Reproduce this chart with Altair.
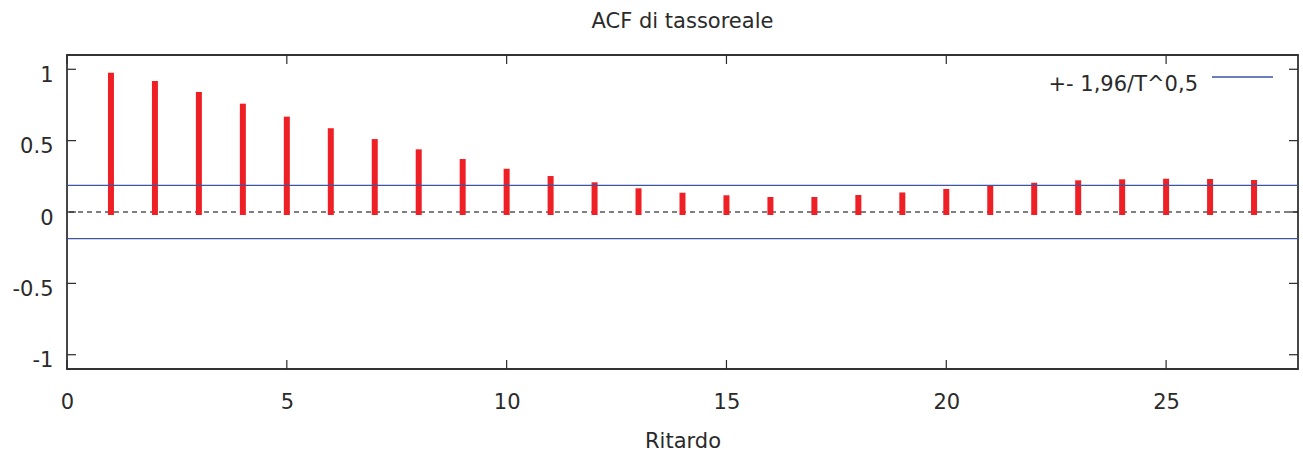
import altair as alt
import pandas as pd

lags = list(range(1, 28))
acf = [0.955, 0.897, 0.820, 0.738, 0.647, 0.566, 0.490, 0.418, 0.350, 0.282,
       0.231, 0.187, 0.145, 0.114, 0.096, 0.084, 0.084, 0.098, 0.116, 0.140,
       0.168, 0.184, 0.201, 0.208, 0.212, 0.210, 0.203]
band = 0.186
y_ticks = [-1, -0.5, 0, 0.5, 1]
x_ticks = [0, 5, 10, 15, 20, 25]
legend_label = ["+- 1,96/T^0,5"]

W, H = 1231, 314
FONT = "DejaVu Sans"
RED = "#ee1f25"
BLUE = "#3c55a5"
INK = "#2a2a2a"

df = pd.DataFrame({"lag": lags, "acf": acf})
bands = pd.DataFrame({"b": [band, -band]})
yt = pd.DataFrame({"v": y_ticks})
xt = pd.DataFrame({"v": x_ticks})
leg = pd.DataFrame({"t": legend_label})

xs = alt.Scale(domain=[0, 28], nice=False, zero=False)
ys = alt.Scale(domain=[-1.1, 1.1], nice=False, zero=False)

base = alt.Chart(df).encode(
    x=alt.X("lag:Q", scale=xs,
            axis=alt.Axis(values=x_ticks, title="Ritardo", grid=False, domain=False,
                          ticks=False, labelFont=FONT, labelFontSize=21, labelColor=INK,
                          labelPadding=22, labelFlush=False, titleFont=FONT, titleFontSize=21,
                          titleFontWeight="normal", titleColor=INK, titlePadding=18,
                          labelExpr="'' + datum.value")),
    y=alt.Y("acf:Q", scale=ys,
            axis=alt.Axis(values=y_ticks, title=None, grid=False, domain=False,
                          ticks=False, labelFont=FONT, labelFontSize=21, labelColor=INK,
                          labelPadding=14, labelOffset=6, labelFlush=False,
                          labelExpr="'' + datum.value")),
)

zero_line = alt.Chart(pd.DataFrame({"z": [0]})).mark_rule(
    color="black", strokeWidth=1, strokeDash=[5, 4]
).encode(y=alt.Y("z:Q", scale=ys))

bars = base.mark_rule(color=RED, strokeWidth=6, strokeCap="square").encode(
    y2=alt.Y2(datum=0)
)

band_lines = alt.Chart(bands).mark_rule(color=BLUE, strokeWidth=1.3).encode(
    y=alt.Y("b:Q", scale=ys)
)

ytick_l = alt.Chart(yt).mark_rule(color=INK, strokeWidth=1.2).encode(
    y=alt.Y("v:Q", scale=ys), x=alt.value(0), x2=alt.value(9))
ytick_r = alt.Chart(yt).mark_rule(color=INK, strokeWidth=1.2).encode(
    y=alt.Y("v:Q", scale=ys), x=alt.value(W - 9), x2=alt.value(W))
xtick_b = alt.Chart(xt).mark_rule(color=INK, strokeWidth=1.2).encode(
    x=alt.X("v:Q", scale=xs), y=alt.value(H - 9), y2=alt.value(H))
xtick_t = alt.Chart(xt).mark_rule(color=INK, strokeWidth=1.2).encode(
    x=alt.X("v:Q", scale=xs), y=alt.value(0), y2=alt.value(9))

leg_text = alt.Chart(leg).mark_text(
    align="right", baseline="alphabetic", font=FONT, fontSize=21, color=INK
).encode(text="t:N", x=alt.value(1131), y=alt.value(36))
leg_line = alt.Chart(leg).mark_rule(color=BLUE, strokeWidth=1.3).encode(
    x=alt.value(1145), x2=alt.value(1206), y=alt.value(22))

chart = alt.layer(
    base.mark_point(opacity=0),
    zero_line, bars, band_lines, ytick_l, ytick_r, xtick_b, xtick_t, leg_text, leg_line
).properties(
    width=W, height=H,
    background="white",
    title=alt.TitleParams("ACF di tassoreale", font=FONT, fontSize=21,
                          fontWeight="normal", color=INK, offset=22, anchor="middle"),
    autosize=alt.AutoSizeParams(type="none"),
    padding={"left": 67, "top": 55, "right": 5, "bottom": 86},
).configure_view(stroke="#333333", strokeWidth=1.8)

chart.save("out.html", embed_options={"renderer": "svg", "actions": False})
